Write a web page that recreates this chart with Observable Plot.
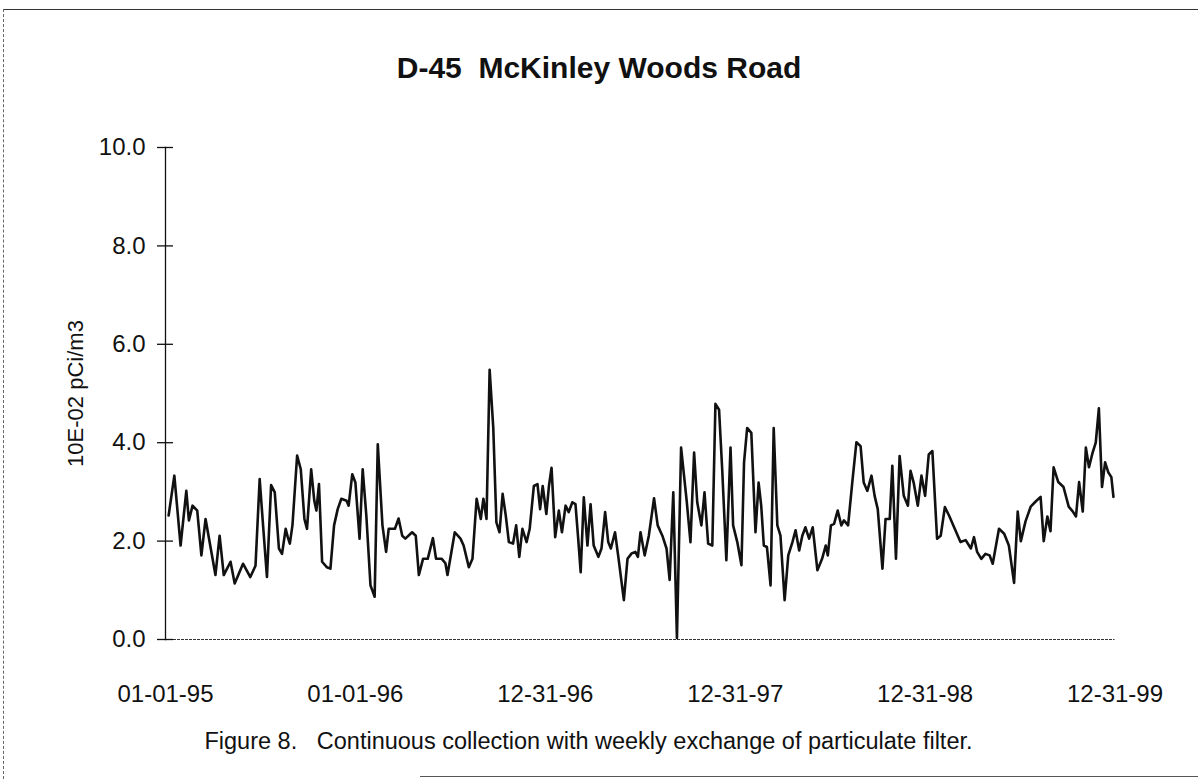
<!DOCTYPE html>
<html>
<head>
<meta charset="utf-8">
<script src="https://cdn.jsdelivr.net/npm/d3@7"></script>
<script src="https://cdn.jsdelivr.net/npm/@observablehq/plot@0.6"></script>
<style>
  html, body { margin: 0; padding: 0; background: #fff; }
  #page { position: relative; width: 1198px; height: 782px; overflow: hidden; font-family: "Liberation Sans", Arial, Helvetica, sans-serif; color: #111; }
  #frameTop { position: absolute; left: 3px; top: 9px; width: 1195px; height: 0; border-top: 1.5px solid #333; }
  #frameLeft { position: absolute; left: 3px; top: 9px; width: 0; height: 770px; border-left: 1px dashed #666; }
  #frameBottom { position: absolute; left: 420px; top: 776px; width: 778px; height: 0; border-top: 1.5px solid #555; }
  #title { position: absolute; left: 0; top: 50px; width: 1198px; text-align: center; font-weight: bold; font-size: 30px; line-height: 36px; }
  #chart { position: absolute; left: 0; top: 100px; }
  #caption { position: absolute; left: 0; top: 727px; width: 1177px; text-align: center; font-size: 23.5px; line-height: 28px; }
</style>
</head>
<body>
<div id="page">
  <div id="frameTop"></div>
  <div id="frameLeft"></div>
  <div id="frameBottom"></div>
  <div id="title">D-45&nbsp; McKinley Woods Road</div>
  <div id="chart"></div>
  <div id="caption">Figure 8.&nbsp;&nbsp; Continuous collection with weekly exchange of particulate filter.</div>
</div>
<script>
// Sampling day (days since 1995-01-01) and concentration (10E-02 pCi/m3)
const sampleDay = [6,17,29,40,45,52,61,69,77,96,104,112,125,133,149,163,173,181,189,195,203,210,218,224,231,235,239,244,253,260,267,272,280,286,290,295,301,310,317,324,331,338,348,352,359,365,373,379,386,394,402,408,417,424,429,441,448,455,461,474,481,487,495,504,514,520,531,538,542,556,567,573,583,590,598,606,611,617,623,630,636,642,648,654,660,668,674,680,686,694,700,708,715,720,725,732,737,742,749,756,762,769,775,782,788,793,798,804,811,817,823,832,838,845,851,856,864,870,881,888,896,903,908,913,921,929,939,946,955,963,969,976,983,991,1002,1009,1016,1022,1030,1036,1043,1051,1057,1064,1070,1078,1086,1091,1099,1107,1112,1118,1126,1134,1140,1145,1150,1156,1163,1169,1176,1182,1190,1197,1205,1211,1218,1224,1230,1237,1244,1253,1262,1269,1273,1279,1285,1292,1299,1304,1312,1320,1328,1336,1342,1349,1357,1363,1369,1378,1384,1392,1397,1404,1411,1419,1427,1432,1438,1446,1453,1460,1467,1474,1483,1490,1498,1506,1517,1528,1538,1548,1554,1560,1568,1576,1584,1590,1602,1612,1621,1631,1638,1644,1653,1663,1672,1682,1688,1695,1701,1707,1716,1726,1736,1744,1750,1756,1763,1769,1775,1782,1788,1794,1800,1806,1812,1818,1822];
const concentration = [2.52,3.33,1.91,3.02,2.42,2.72,2.62,1.71,2.45,1.31,2.11,1.31,1.58,1.14,1.54,1.27,1.50,3.26,2.11,1.27,3.14,2.99,1.85,1.74,2.25,2.08,1.95,2.32,3.74,3.46,2.45,2.25,3.46,2.82,2.62,3.16,1.58,1.47,1.44,2.32,2.65,2.86,2.82,2.72,3.36,3.19,2.05,3.46,2.52,1.10,0.87,3.97,2.32,1.78,2.25,2.25,2.46,2.11,2.05,2.18,2.11,1.31,1.64,1.64,2.06,1.64,1.64,1.55,1.31,2.18,2.05,1.91,1.47,1.64,2.86,2.45,2.86,2.45,5.48,4.30,2.38,2.18,2.96,2.52,1.98,1.95,2.32,1.68,2.25,1.98,2.25,3.12,3.16,2.65,3.12,2.55,3.12,3.49,2.08,2.62,2.18,2.72,2.59,2.79,2.75,2.08,1.37,2.89,1.91,2.75,1.91,1.68,1.85,2.59,1.98,1.85,2.18,1.71,0.80,1.64,1.75,1.78,1.68,2.18,1.71,2.11,2.87,2.32,2.11,1.85,1.21,2.99,0.03,3.90,2.79,1.98,3.80,2.79,2.32,2.99,1.95,1.91,4.79,4.67,3.46,1.61,3.90,2.32,1.98,1.51,3.60,4.30,4.20,2.18,3.19,2.72,1.91,1.88,1.10,4.30,2.32,2.11,0.80,1.71,1.98,2.22,1.81,2.11,2.28,2.05,2.28,1.41,1.64,1.91,1.71,2.32,2.35,2.62,2.32,2.42,2.32,3.19,4.01,3.93,3.19,3.02,3.33,2.92,2.65,1.44,2.45,2.45,3.53,1.64,3.73,2.92,2.72,3.43,3.19,2.72,3.33,2.92,3.76,3.83,2.05,2.11,2.69,2.52,2.25,1.98,2.02,1.85,2.08,1.78,1.64,1.74,1.71,1.54,2.25,2.15,1.91,1.15,2.60,2.00,2.40,2.70,2.80,2.90,2.00,2.50,2.20,3.50,3.20,3.10,2.70,2.60,2.50,3.20,2.60,3.90,3.50,3.80,4.00,4.70,3.10,3.60,3.40,3.30,2.90];

const yTicks = [0, 2, 4, 6, 8, 10];
const xTickDates = ["1995-01-01", "1996-01-01", "1996-12-31", "1997-12-31", "1998-12-31", "1999-12-31"];
const xTickLabels = ["01-01-95", "01-01-96", "12-31-96", "12-31-97", "12-31-98", "12-31-99"];
const yLabel = "10E-02 pCi/m3";

const parse = d3.utcParse("%Y-%m-%d");
const tickDates = xTickDates.map(parse);
const origin = tickDates[0];
const data = sampleDay.map((d, i) => ({
  date: d3.utcDay.offset(origin, d),
  value: concentration[i]
}));
const labelOf = new Map(tickDates.map((d, i) => [+d, xTickLabels[i]]));

const chart = Plot.plot({
  width: 1198,
  height: 610,
  marginTop: 47,
  marginBottom: 71,
  marginLeft: 165,
  marginRight: 83.5,
  style: {fontFamily: "'Liberation Sans', Arial, Helvetica, sans-serif", fontSize: "24px", color: "#111", background: "transparent", overflow: "visible"},
  x: {type: "utc", domain: [tickDates[0], tickDates[tickDates.length - 1]]},
  y: {domain: [0, 10]},
  marks: [
    Plot.ruleY([0], {stroke: "#333", strokeWidth: 1.2, strokeDasharray: "3,1"}),
    Plot.frame({anchor: "left", stroke: "#111", strokeWidth: 1.3}),
    Plot.ruleY(yTicks, {x1: origin, x2: origin, insetLeft: -8, insetRight: -8, stroke: "#111", strokeWidth: 1.3}),
    Plot.axisY({ticks: yTicks, tickSize: 0, tickPadding: 20, tickFormat: d => d.toFixed(1), fontSize: 24, label: null}),
    Plot.axisX({ticks: tickDates, tickSize: 0, tickPadding: 45, tickFormat: d => labelOf.get(+d), fontSize: 24, label: null}),
    Plot.text([yLabel], {frameAnchor: "left", textAnchor: "middle", dx: -90, rotate: -90, fontSize: 22, fill: "#111"}),
    Plot.line(data, {x: "date", y: "value", stroke: "#111", strokeWidth: 2.6, strokeLinejoin: "round"})
  ]
});
document.getElementById("chart").appendChild(chart);
</script>
</body>
</html>
